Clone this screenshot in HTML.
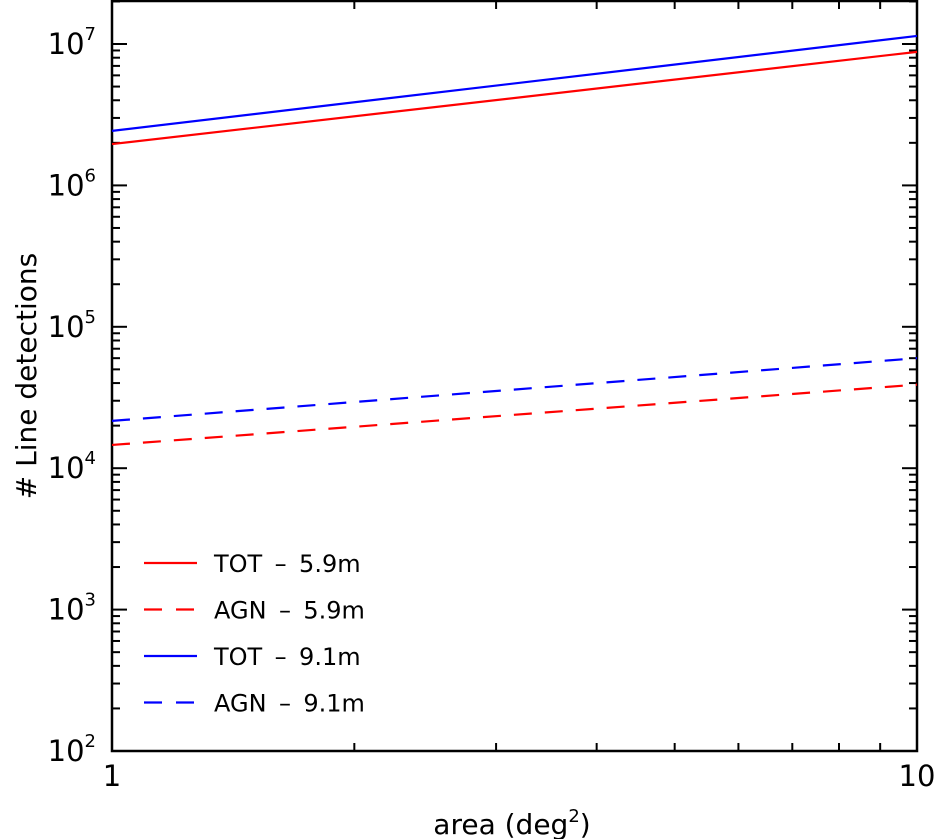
<!DOCTYPE html>
<html><head><meta charset="utf-8"><style>
html,body{margin:0;padding:0;background:#fff;}
svg{display:block;font-family:"DejaVu Sans","Liberation Sans",sans-serif;}
</style></head><body>
<svg id="chart" width="934" height="839" viewBox="0 0 934 839" xmlns="http://www.w3.org/2000/svg"></svg>
<script>
const areas = [1, 10];
const totShort = [1.96e6, 8.8e6];
const agnShort = [1.46e4, 3.9e4];
const totLong = [2.43e6, 1.14e7];
const agnLong = [2.16e4, 6.0e4];
const yTickExps = [2, 3, 4, 5, 6, 7];
const xTickLabels = ["1", "10"];
const seriesNames = ["TOT \u2009\u2013\u2009 5.9m", "AGN \u2009\u2013\u2009 5.9m", "TOT \u2009\u2013\u2009 9.1m", "AGN \u2009\u2013\u2009 9.1m"];

const L = 112, R = 917, T = 1, B = 751;
const yMinLog = 2, yMaxLog = 7 + 43 / 141.4;
const X = v => L + (Math.log10(v) - 0) / 1 * (R - L);
const Y = v => B - (Math.log10(v) - yMinLog) / (yMaxLog - yMinLog) * (B - T);
const svg = document.getElementById('chart');
const NS = 'http://www.w3.org/2000/svg';
function mk(tag, attrs, parent) {
  const e = document.createElementNS(NS, tag);
  for (const k in attrs) e.setAttribute(k, attrs[k]);
  (parent || svg).appendChild(e);
  return e;
}
const ticks = mk('g', {stroke: '#000', 'stroke-width': 2});


for (let e = 2; e <= 7; e++) {
  for (let m = 1; m <= 9; m++) {
    const v = m * Math.pow(10, e);
    const y = Y(v);
    if (y < T) continue;
    const len = m === 1 ? 15 : 8;
    mk('line', {x1: L, x2: L + len, y1: y, y2: y}, ticks);
    mk('line', {x1: R, x2: R - len, y1: y, y2: y}, ticks);
  }
}
for (let m = 1; m <= 10; m++) {
  const x = X(m);
  const len = (m === 1 || m === 10) ? 15 : 8;
  mk('line', {x1: x, x2: x, y1: B, y2: B - len}, ticks);
  mk('line', {x1: x, x2: x, y1: T, y2: T + len}, ticks);
}
const frame = mk('rect', {x: L, y: T, width: R - L, height: B - T, fill: 'none', stroke: '#000', 'stroke-width': 2.5});


yTickExps.forEach(e => {
  const t = mk('text', {x: 96, y: Y(Math.pow(10, e)) + 10, 'text-anchor': 'end', 'font-size': 29, fill: '#000'});
  
  
  t.textContent = '10';
  const s = mk('tspan', {dy: -14, 'font-size': 18}, t);
  s.textContent = e;
});
xTickLabels.forEach(lbl => {
  const t = mk('text', {x: X(Number(lbl)), y: 786, 'text-anchor': 'middle', 'font-size': 29, fill: '#000'});
  
  
  t.textContent = lbl;
});
const xt = mk('text', {x: 512, y: 834, 'text-anchor': 'middle', 'font-size': 28, fill: '#000'});


xt.textContent = 'area (deg';
const xs = mk('tspan', {dy: -12, 'font-size': 18}, xt); xs.textContent = '2';
const xe = mk('tspan', {dy: 12}, xt); xe.textContent = ')';
const yt = mk('text', {x: 0, y: 0, 'text-anchor': 'middle', 'font-size': 28, fill: '#000', transform: 'translate(36,376) rotate(-90)'});


yt.textContent = '# Line detections';
const series = [
  {d: totShort, c: '#f00', dash: null, n: 'series-tot-5.9m'},
  {d: agnShort, c: '#f00', dash: '18 13', n: 'series-agn-5.9m'},
  {d: totLong, c: '#00f', dash: null, n: 'series-tot-9.1m'},
  {d: agnLong, c: '#00f', dash: '18 13', n: 'series-agn-9.1m'}
];
series.forEach(s => {
  const pts = areas.map((a, i) => X(a) + ',' + Y(s.d[i])).join(' ');
  const p = mk('polyline', {points: pts, fill: 'none', stroke: s.c, 'stroke-width': 2.2});
  if (s.dash) p.setAttribute('stroke-dasharray', s.dash);
  
  
});
const lg = mk('g', {});


series.forEach((s, i) => {
  const y = 563 + i * 46.5;
  const l = mk('line', {x1: 144, x2: 197, y1: y, y2: y, stroke: s.c, 'stroke-width': 2.2}, lg);
  if (s.dash) l.setAttribute('stroke-dasharray', '18 14');
  
  
  const t = mk('text', {x: 214, y: y + 9, 'font-size': 24, fill: '#000'}, lg);
  
  
  t.textContent = seriesNames[i];
});
</script>
</body></html>
